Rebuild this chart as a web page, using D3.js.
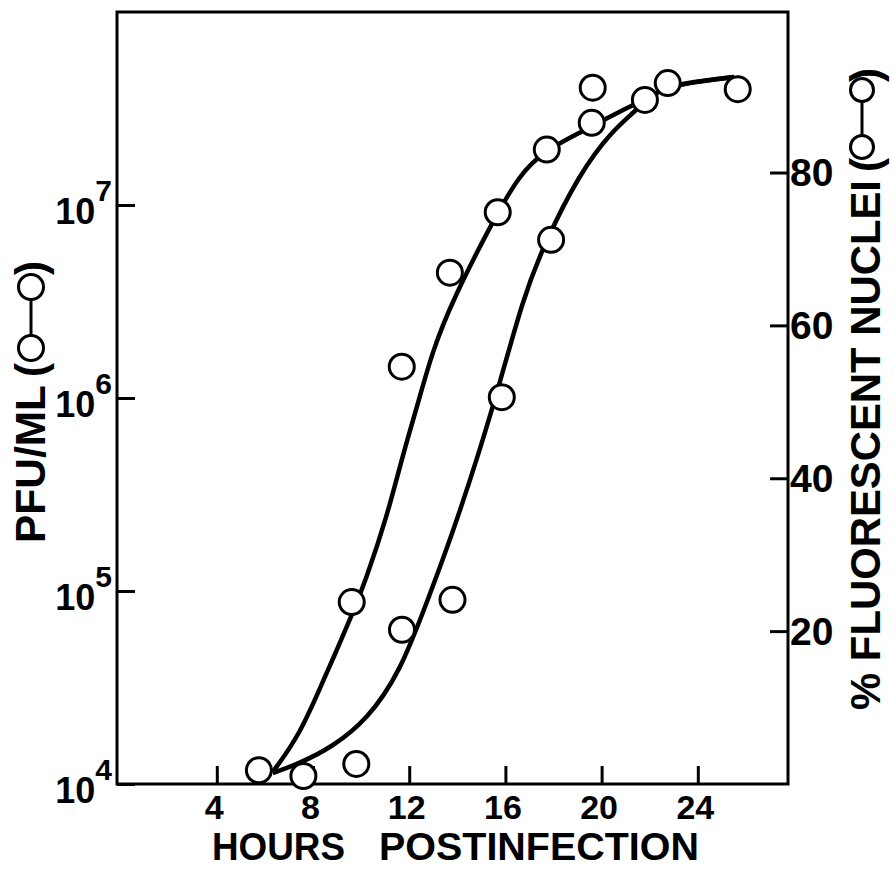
<!DOCTYPE html>
<html lang="en">
<head>
<meta charset="UTF-8">
<title>PFU and fluorescent nuclei</title>
<script src="https://cdn.jsdelivr.net/npm/d3@7"></script>
<style>
  html, body { margin: 0; padding: 0; background: #fff; }
  svg text { font-family: "Liberation Sans", Arial, Helvetica, sans-serif; font-weight: bold; fill: #000; }
</style>
</head>
<body>
<script>
// ---- data ----
const hourTicks = [4, 8, 12, 16, 20, 24];
const pfuTicks = [1e4, 1e5, 1e6, 1e7];
const pctTicks = [20, 40, 60, 80];

// PFU/ML points (left, log axis)
const pfuHours = [7.6, 9.8, 11.7, 13.8, 15.85, 17.9];
const pfuValues = [1.1e4, 1.27e4, 6.3e4, 9.0e4, 1.01e6, 6.6e6];

// % fluorescent nuclei points (right axis)
const fluHours = [5.75, 9.61, 11.69, 13.69, 15.68, 17.72, 19.59, 19.63, 21.8, 22.75, 25.66];
const fluPercent = [1.8, 23.8, 54.6, 66.9, 74.8, 83.0, 86.5, 91.1, 89.5, 91.7, 90.9];

// fitted curves as drawn
const fluCurveHours = [6.33, 7.45, 8.49, 8.99, 9.65, 10.15, 11.07, 11.73, 12.32, 12.98, 13.81, 15.35, 16.6, 17.72, 19.09, 20.88, 21.8, 22.75, 25.5];
const fluCurvePercent = [1.6, 6.4, 14.0, 17.5, 22.4, 26.3, 34.9, 43.0, 49.3, 56.8, 63.3, 72.9, 79.9, 83.0, 85.2, 88.2, 89.5, 91.5, 92.5];

const pfuCurveHours = [6.33, 7.45, 8.82, 10.24, 11.61, 12.77, 13.81, 14.94, 15.77, 16.72, 17.55, 19.09, 20.47, 21.46, 21.8, 22.75, 25.5];
const pfuCurveValues = [1.14e4, 1.28e4, 1.56e4, 2.15e4, 3.76e4, 8.98e4, 2.0e5, 5.38e5, 1.2e6, 3.22e6, 6.05e6, 1.47e7, 2.45e7, 3.1e7, 3.5e7, 4.19e7, 4.6e7];

// ---- layout ----
const W = 893, H = 869;
const plot = { left: 117, right: 788, top: 12, bottom: 784 };

const svg = d3.select("body").append("svg")
    .attr("width", W)
    .attr("height", H);

const x = d3.scaleLinear().domain([-0.15, 27.75]).range([plot.left, plot.right]);
const yLog = d3.scaleLog().domain([1e4, 1e8]).range([plot.bottom, plot.top]);
const yPct = d3.scaleLinear().domain([0, 101]).range([plot.bottom, plot.top]);

// frame
svg.append("rect")
    .attr("x", plot.left).attr("y", plot.top)
    .attr("width", plot.right - plot.left).attr("height", plot.bottom - plot.top)
    .attr("fill", "none").attr("stroke", "#000").attr("stroke-width", 3);

// x axis
const gx = svg.append("g")
    .attr("transform", "translate(0," + plot.bottom + ")")
    .call(d3.axisBottom(x).tickValues(hourTicks).tickSize(-18).tickSizeOuter(0));
gx.select(".domain").remove();
gx.selectAll(".tick line").attr("stroke", "#000").attr("stroke-width", 3);
gx.selectAll(".tick text")
    .attr("y", 35).attr("dy", 0).attr("dx", -3)
    .attr("font-size", 34);

// left axis (log)
const gl = svg.append("g")
    .attr("transform", "translate(" + plot.left + ",0)")
    .call(d3.axisLeft(yLog).tickValues(pfuTicks).tickSize(-18).tickSizeOuter(0).tickFormat(""));
gl.select(".domain").remove();
gl.selectAll(".tick line").attr("stroke", "#000").attr("stroke-width", 3);
gl.selectAll(".tick text").remove();
gl.selectAll(".tick").append("text")
    .attr("x", -5).attr("y", 18)
    .attr("text-anchor", "end")
    .attr("font-size", 36)
    .each(function(d) {
        const t = d3.select(this);
        t.append("tspan").text("10");
        t.append("tspan").attr("dy", -23).attr("font-size", 30).text(Math.round(Math.log10(d)));
    });

// right axis (%)
const gr = svg.append("g")
    .attr("transform", "translate(" + plot.right + ",0)")
    .call(d3.axisRight(yPct).tickValues(pctTicks).tickSize(-18).tickSizeOuter(0));
gr.select(".domain").remove();
gr.selectAll(".tick line").attr("stroke", "#000").attr("stroke-width", 3);
gr.selectAll(".tick text")
    .attr("x", 2).attr("y", 13).attr("dy", 0)
    .attr("text-anchor", "start")
    .attr("font-size", 39);

// curves
const fluLine = d3.line()
    .x((d, i) => x(fluCurveHours[i]))
    .y(d => yPct(d))
    .curve(d3.curveBasis);
const pfuLine = d3.line()
    .x((d, i) => x(pfuCurveHours[i]))
    .y(d => yLog(d))
    .curve(d3.curveBasis);

svg.append("path")
    .attr("d", fluLine(fluCurvePercent))
    .attr("fill", "none").attr("stroke", "#000").attr("stroke-width", 4.5);
svg.append("path")
    .attr("d", pfuLine(pfuCurveValues))
    .attr("fill", "none").attr("stroke", "#000").attr("stroke-width", 4.5);

// points
svg.append("g").selectAll("circle")
    .data(fluPercent)
    .enter().append("circle")
    .attr("cx", (d, i) => x(fluHours[i]))
    .attr("cy", d => yPct(d))
    .attr("r", 12.5)
    .attr("fill", "#fff").attr("stroke", "#000").attr("stroke-width", 3);
svg.append("g").selectAll("circle")
    .data(pfuValues)
    .enter().append("circle")
    .attr("cx", (d, i) => x(pfuHours[i]))
    .attr("cy", d => yLog(d))
    .attr("r", 12.5)
    .attr("fill", "#fff").attr("stroke", "#000").attr("stroke-width", 3);

// axis titles with the little o-o symbol
function legendTitle(tx, ty, label, labelLen, fontSize, parenOpen, c1, c2, parenClose, off, r) {
    const g = svg.append("g").attr("transform", "translate(" + tx + "," + ty + ") rotate(-90)");
    g.append("text")
        .attr("x", 0).attr("y", 0)
        .attr("font-size", fontSize)
        .attr("textLength", labelLen)
        .attr("lengthAdjust", "spacingAndGlyphs")
        .text(label);
    g.append("text").attr("x", parenOpen).attr("y", 0).attr("font-size", fontSize).text("(");
    g.append("line")
        .attr("x1", c1).attr("x2", c2).attr("y1", -off).attr("y2", -off)
        .attr("stroke", "#000").attr("stroke-width", 3);
    [c1, c2].forEach(c => g.append("circle")
        .attr("cx", c).attr("cy", -off).attr("r", r)
        .attr("fill", "#fff").attr("stroke", "#000").attr("stroke-width", 3));
    g.append("text").attr("x", parenClose).attr("y", 0).attr("font-size", fontSize).text(")");
}

legendTitle(45, 543, "PFU/ML", 158, 42, 166, 195, 256, 268, 14, 12.5);
legendTitle(880, 710, "% FLUORESCENT NUCLEI", 530, 42, 538, 563, 620, 628, 18, 11.5);

// x title
svg.append("text")
    .attr("x", 212).attr("y", 860)
    .attr("font-size", 38)
    .attr("textLength", 133).attr("lengthAdjust", "spacingAndGlyphs")
    .text("HOURS");
svg.append("text")
    .attr("x", 379).attr("y", 860)
    .attr("font-size", 38)
    .attr("textLength", 320).attr("lengthAdjust", "spacingAndGlyphs")
    .text("POSTINFECTION");
</script>
</body>
</html>
